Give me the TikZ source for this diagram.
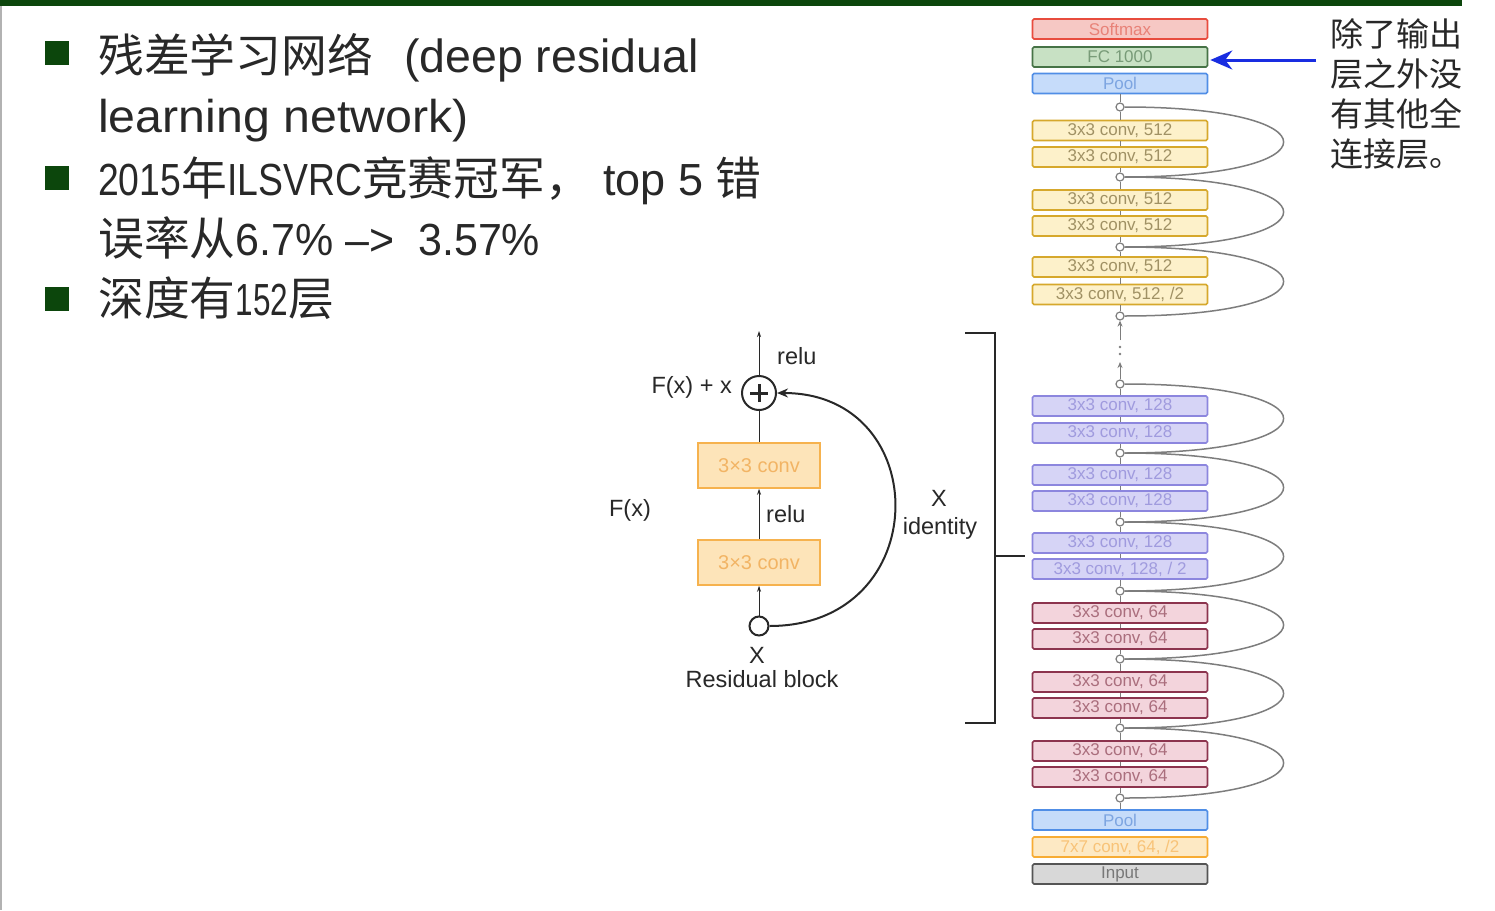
\documentclass[tikz,border=0pt]{standalone}
\usepackage{fontspec}
\setmainfont{Liberation Sans}
\newfontfamily\cjk{Noto Sans CJK SC}
\usetikzlibrary{arrows.meta}
\definecolor{bargreen}{RGB}{12,70,12}
\definecolor{txt}{RGB}{40,40,40}
\definecolor{jgray}{RGB}{125,125,125}
\definecolor{rF}{RGB}{246,200,196}\definecolor{rD}{RGB}{232,76,62}\definecolor{rT}{RGB}{232,130,120}
\definecolor{gF}{RGB}{200,225,196}\definecolor{gD}{RGB}{70,115,70}\definecolor{gT}{RGB}{120,155,120}
\definecolor{bF}{RGB}{198,220,250}\definecolor{bD}{RGB}{80,142,230}\definecolor{bT}{RGB}{125,165,225}
\definecolor{yF}{RGB}{253,241,202}\definecolor{yD}{RGB}{214,168,44}\definecolor{yT}{RGB}{160,145,100}
\definecolor{pF}{RGB}{214,212,246}\definecolor{pD}{RGB}{140,134,222}\definecolor{pT}{RGB}{160,155,222}
\definecolor{mF}{RGB}{243,212,220}\definecolor{mD}{RGB}{140,52,78}\definecolor{mT}{RGB}{170,110,125}
\definecolor{oF}{RGB}{253,233,196}\definecolor{oD}{RGB}{247,172,52}\definecolor{oT}{RGB}{248,195,120}
\definecolor{iF}{RGB}{216,216,216}\definecolor{iD}{RGB}{85,85,85}\definecolor{iT}{RGB}{120,120,120}
\definecolor{rbF}{RGB}{253,228,185}\definecolor{rbD}{RGB}{246,178,78}\definecolor{rbT}{RGB}{242,180,100}
\definecolor{blueA}{RGB}{25,45,225}
\newcommand{\nw}[2]{\scalebox{#1}[1]{#2}}
\begin{document}
\begin{tikzpicture}[x=1pt,y=-1pt,
  blk/.style={minimum width=175pt, minimum height=20pt, inner sep=0pt, rounded corners=1.5pt, line width=1.6pt, font=\fontsize{17}{17}\selectfont},
  cR/.style={blk, fill=rF, draw=rD, text=rT},
  cG/.style={blk, fill=gF, draw=gD, text=gT},
  cB/.style={blk, fill=bF, draw=bD, text=bT},
  cY/.style={blk, fill=yF, draw=yD, text=yT},
  cP/.style={blk, fill=pF, draw=pD, text=pT},
  cM/.style={blk, fill=mF, draw=mD, text=mT},
  cO/.style={blk, fill=oF, draw=oD, text=oT},
  cI/.style={blk, fill=iF, draw=iD, text=iT},
  jn/.style={circle, draw=jgray, fill=white, line width=1.2pt, minimum size=8pt, inner sep=0pt},
  vline/.style={draw=jgray, line width=1pt},
  skiparc/.style={draw=jgray, line width=1.5pt},
  big/.style={anchor=base west, text=txt, font=\fontsize{45}{45}\selectfont, inner sep=0pt},
  bul/.style={fill=bargreen, minimum size=24pt, inner sep=0pt},
  lbl/.style={text=txt, font=\fontsize{23.5}{23.5}\selectfont, inner sep=0pt},
  rbox/.style={minimum width=122pt, minimum height=45pt, inner sep=0pt, fill=rbF, draw=rbD, line width=1.5pt, text=rbT, font=\fontsize{20}{20}\selectfont},
  thinarr/.style={draw=txt, line width=0.8pt, -{Stealth[length=6pt,width=4pt]}},
]
\useasboundingbox (0,0) rectangle (1495,910);
\fill[white] (0,0) rectangle (1495,910);
% slide frame
\fill[bargreen] (0,0) rectangle (1462,6);
\draw[gray!60, line width=2pt] (1,6) -- (1,910);

% bullets and text
\node[bul] (b1) at (57,53) {};
\node[bul] (b2) at (57,178) {};
\node[bul] (b3) at (57,299) {};
\node[big] (t1) at (98,72) {{\cjk\fontsize{45.8}{45.8}\selectfont 残差学习网络}\hspace{31pt}{\fontsize{46.5}{46.5}\selectfont(deep residual}};
\node[big] (t2) at (98,132) {\nw{1.05}{\fontsize{46}{46}\selectfont learning network)}};
\node[big] (t3) at (98,195) {\nw{0.83}{2015}{\cjk\fontsize{45.8}{45.8}\selectfont 年}\nw{0.83}{ILSVRC}{\cjk\fontsize{45.8}{45.8}\selectfont 竞赛冠军，}\hspace{12pt}top 5 {\cjk\fontsize{45.8}{45.8}\selectfont 错}};
\node[big] (t4) at (98,255) {{\cjk\fontsize{45.8}{45.8}\selectfont 误率从}\nw{0.955}{6.7\% –>\ \ 3.57\%}};
\node[big] (t5) at (98,315) {{\cjk\fontsize{45.8}{45.8}\selectfont 深度有}\nw{0.7}{152}{\cjk\fontsize{45.8}{45.8}\selectfont 层}};

% right note
\node[anchor=north west, inner sep=0pt, text=txt, font=\cjk\fontsize{33}{40}\selectfont, align=left] (note) at (1330,18) {除了输出\\层之外没\\有其他全\\连接层。};

% network stack
\node[cR] (sm) at (1120,29) {Softmax};
\node[cG] (fc) at (1120,57) {FC 1000};
\node[cB] (p1) at (1120,83.5) {Pool};
\node[jn] (j1) at (1120,107) {};
\node[cY] (a1) at (1120,130.5) {3x3 conv, 512};
\node[cY] (a2) at (1120,157) {3x3 conv, 512};
\node[jn] (j2) at (1120,177) {};
\node[cY] (a3) at (1120,200) {3x3 conv, 512};
\node[cY] (a4) at (1120,226) {3x3 conv, 512};
\node[jn] (j3) at (1120,247) {};
\node[cY] (a5) at (1120,267) {3x3 conv, 512};
\node[cY] (a6) at (1120,294.5) {3x3 conv, 512, /2};
\node[jn] (j4) at (1120,316) {};
\node[jn] (j5) at (1120,384) {};
\node[cP] (c1) at (1120,406) {3x3 conv, 128};
\node[cP] (c2) at (1120,433) {3x3 conv, 128};
\node[jn] (j6) at (1120,453) {};
\node[cP] (c3) at (1120,475) {3x3 conv, 128};
\node[cP] (c4) at (1120,501) {3x3 conv, 128};
\node[jn] (j7) at (1120,522) {};
\node[cP] (c5) at (1120,543) {3x3 conv, 128};
\node[cP] (c6) at (1120,569) {3x3 conv, 128, / 2};
\node[jn] (j8) at (1120,591) {};
\node[cM] (d1) at (1120,613) {3x3 conv, 64};
\node[cM] (d2) at (1120,639) {3x3 conv, 64};
\node[jn] (j9) at (1120,659) {};
\node[cM] (d3) at (1120,682) {3x3 conv, 64};
\node[cM] (d4) at (1120,708) {3x3 conv, 64};
\node[jn] (j10) at (1120,728) {};
\node[cM] (d5) at (1120,751) {3x3 conv, 64};
\node[cM] (d6) at (1120,777) {3x3 conv, 64};
\node[jn] (j11) at (1120,798) {};
\node[cB] (p2) at (1120,820) {Pool};
\node[cO] (cv7) at (1120,847) {7x7 conv, 64, /2};
\node[cI] (inp) at (1120,874) {Input};

\draw[vline] (p1) -- (j1) -- (a1) -- (a2) -- (j2) -- (a3) -- (a4) -- (j3) -- (a5) -- (a6) -- (j4);
\draw[vline] (j5) -- (c1) -- (c2) -- (j6) -- (c3) -- (c4) -- (j7) -- (c5) -- (c6) -- (j8)
  -- (d1) -- (d2) -- (j9) -- (d3) -- (d4) -- (j10) -- (d5) -- (d6) -- (j11) -- (p2);
% dotted gap
\coordinate (g1) at (1120,340);
\coordinate (g2) at (1120,362);
\draw[vline, -{Stealth[length=6pt,width=5pt]}] (g1) -- (j4);
\draw[vline, -{Stealth[length=6pt,width=5pt]}] (j5) -- (g2);
\fill[jgray] (1120,347) circle (1.3pt) (1120,354) circle (1.3pt);

% skip arcs
\foreach \s/\e in {j1/j2, j2/j3, j3/j4, j5/j6, j6/j7, j7/j8, j8/j9, j9/j10, j10/j11}
  \draw[skiparc] (\s.east) .. controls +(212,0) and +(212,0) .. (\e.east);

% blue arrow
\coordinate (bs) at (1316,60);
\draw[blueA, line width=3pt, -{Stealth[length=22pt,width=19pt]}, shorten >=2pt] (bs) -- (fc.east |- bs);

% bracket
\coordinate (k1) at (965,333);
\coordinate (k2) at (995,333);
\coordinate (k3) at (995,723);
\coordinate (k4) at (965,723);
\coordinate (k5) at (995,556);
\coordinate (k6) at (1025,556);
\draw[txt, line width=2pt] (k1) -- (k2) -- (k3) -- (k4);
\draw[txt, line width=2pt] (k5) -- (k6);

% residual block
\node[circle, draw=txt, fill=white, line width=2pt, minimum size=34pt, inner sep=0pt] (plus) at (759,393) {};
\draw[txt, line width=3pt] ([xshift=-9pt]plus.center) -- ([xshift=9pt]plus.center);
\draw[txt, line width=3pt] ([yshift=-9pt]plus.center) -- ([yshift=9pt]plus.center);
\coordinate (outtop) at (759,331);
\node[rbox] (rb1) at (759,465.5) {3×3 conv};
\node[rbox] (rb2) at (759,562.5) {3×3 conv};
\node[circle, draw=txt, fill=white, line width=2pt, minimum size=19pt, inner sep=0pt] (xin) at (759,626) {};
\draw[thinarr] (plus) -- (outtop);
\draw[txt, line width=0.8pt] (rb1) -- (plus);
\draw[thinarr] (rb2) -- (rb1);
\draw[thinarr] (xin) -- (rb2);
\draw[txt, line width=2pt, -{Stealth[length=11pt,width=9pt]}] (xin.east) .. controls (935,626) and (935,393) .. (plus.east);

\node[lbl, anchor=west] (relu1) at (777,356) {relu};
\node[lbl, anchor=east] (fxx) at (732,387) {F(x) + x};
\node[lbl, anchor=west] (relu2) at (766,514) {relu};
\node[lbl] (fx) at (630,510) {F(x)};
\node[lbl] (xr) at (939,498) {X};
\node[lbl] (idt) at (940,528) {identity};
\node[lbl] (xb) at (757,655) {X};
\node[lbl] (rbl) at (762,679) {Residual block};
\end{tikzpicture}
\end{document}
